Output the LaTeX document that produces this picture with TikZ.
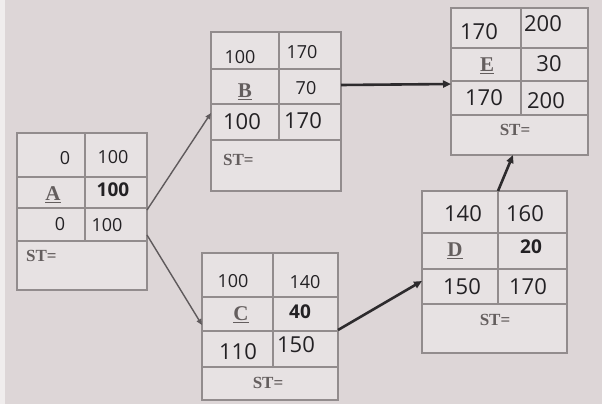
\documentclass[tikz,border=0pt]{standalone}
\usepackage{fontspec}
\usetikzlibrary{arrows.meta}
\newfontfamily\numfont{Open Sans}
\newfontfamily\serifb{Liberation Serif}
\definecolor{bg}{RGB}{221,214,215}
\definecolor{cell}{RGB}{231,226,227}
\definecolor{frame}{RGB}{146,140,141}
\definecolor{ink}{RGB}{35,33,36}
\definecolor{lettergray}{RGB}{100,94,94}
\definecolor{arrowlight}{RGB}{95,90,92}
\definecolor{arrowdark}{RGB}{45,43,45}
\tikzset{
  boxframe/.style={draw=frame, line width=2.8pt, fill=cell, inner sep=0pt, outer sep=0pt, rectangle},
  gridline/.style={draw=frame, line width=2.2pt},
  num/.style={font=\numfont\fontsize{18}{18}\selectfont, text=ink, inner sep=0pt},
  bignum/.style={font=\numfont\fontsize{22}{22}\selectfont, text=ink, inner sep=0pt},
  boldnum/.style={font=\numfont\bfseries\fontsize{19}{19}\selectfont, text=ink, inner sep=0pt},
  letter/.style={font=\serifb\bfseries\fontsize{21}{21}\selectfont, text=lettergray, inner sep=0pt},
  stlabel/.style={font=\serifb\bfseries\fontsize{17}{17}\selectfont, text=lettergray, inner sep=0pt},
  thinlink/.style={draw=arrowlight, line width=1.4pt, -{Triangle[length=6pt,width=5pt]}},
  thicklink/.style={draw=arrowdark, line width=2.6pt, -{Triangle[length=8pt,width=7pt]}}
}
% name, x1, y1, x2, y2, row1, row2, row3, column
\newcommand\pertbox[9]{%
  \node[boxframe, minimum width={(#4-#2)*1pt}, minimum height={(#5-#3)*1pt}] (#1) at ({(#2+#4)/2},{(#3+#5)/2}) {};
  \draw[gridline] (#2,#6) -- (#4,#6) (#2,#7) -- (#4,#7) (#2,#8) -- (#4,#8) (#9,#3) -- (#9,#8);
}
\begin{document}
\begin{tikzpicture}[x=1pt,y=-1pt]
\useasboundingbox (0,0) rectangle (602,404);
\fill[bg] (0,0) rectangle (602,404);
\fill[white!55!bg] (0,0) rectangle (5,404);

\pertbox{A}{17}{133}{147}{290}{177}{208}{241}{85}
\pertbox{B}{211}{32}{341}{191}{69}{104}{140}{279}
\pertbox{C}{202}{253}{338}{400}{297}{331}{367}{273}
\pertbox{D}{422}{191}{567}{353}{233}{269}{304}{498}
\pertbox{E}{451}{8}{588}{155}{48}{81}{115}{521}

% A
\node[num] (A11) at (65,158) {0};
\node[num] (A12) at (113,157) {100};
\node[letter] (AN) at (53,195) {\underline{A}};
\node[boldnum] (A22) at (113,190) {100};
\node[num] (A31) at (60,224) {0};
\node[num] (A32) at (107,225) {100};
\node[stlabel, anchor=west] (AST) at (26,256) {ST=};
% B
\node[num] (B11) at (240,57) {100};
\node[num] (B12) at (302,52) {170};
\node[letter] (BN) at (245,92) {\underline{B}};
\node[num] (B22) at (306,88) {70};
\node[bignum] (B31) at (242,122) {100};
\node[bignum] (B32) at (303,121) {170};
\node[stlabel, anchor=west] (BST) at (223,160) {ST=};
% C
\node[num] (C11) at (233,281) {100};
\node[num] (C12) at (305,282) {140};
\node[letter] (CN) at (241,315) {\underline{C}};
\node[boldnum] (C22) at (300,312) {40};
\node[bignum] (C31) at (238,352) {110};
\node[bignum] (C32) at (296,345) {150};
\node[stlabel] (CST) at (268,383) {ST=};
% D
\node[bignum] (D11) at (463,214) {140};
\node[bignum] (D12) at (525,214) {160};
\node[letter] (DN) at (455,251) {\underline{D}};
\node[boldnum] (D22) at (531,247) {20};
\node[bignum] (D31) at (462,287) {150};
\node[bignum] (D32) at (528,287) {170};
\node[stlabel] (DST) at (495,320) {ST=};
% E
\node[bignum] (E11) at (479,32) {170};
\node[bignum] (E12) at (543,24) {200};
\node[letter] (EN) at (487,66) {\underline{E}};
\node[bignum] (E22) at (549,64) {30};
\node[bignum] (E31) at (484,98) {170};
\node[bignum] (E32) at (546,101) {200};
\node[stlabel] (EST) at (515,130) {ST=};

% connectors
\draw[thinlink] ([yshift=1.5pt]A.east) -- ([yshift=-1.5pt]B.west);
\draw[thinlink] ([yshift=-23.5pt]A.east) -- ([yshift=1.5pt]C.west);
\draw[thicklink] ([yshift=26.5pt]B.east) -- ([yshift=-2.5pt]E.west);
\draw[thicklink] ([yshift=-3.5pt]C.east) -- ([yshift=-9pt]D.west);
\draw[thicklink] ([xshift=3.5pt]D.north) -- ([xshift=-6.5pt]E.south);
\end{tikzpicture}
\end{document}
